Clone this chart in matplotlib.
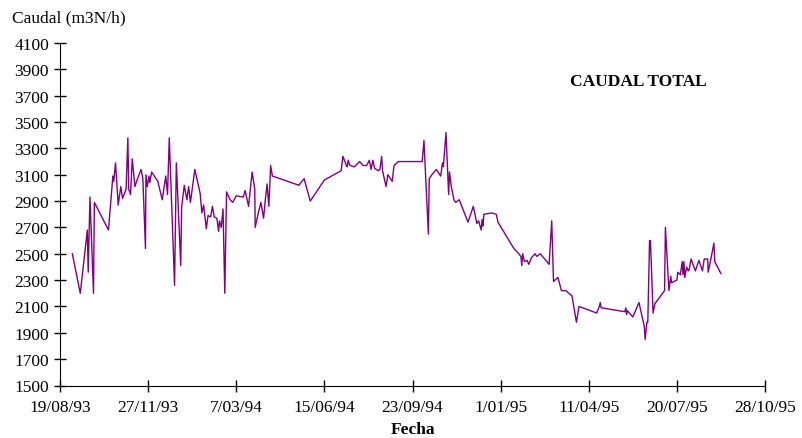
import pandas as pd
import matplotlib.pyplot as plt
import matplotlib.dates as mdates

# Day offsets from the first tick date and the flow read at each point
START = pd.Timestamp("1993-08-19")
days = [14, 23, 31, 32, 34, 38, 39, 55, 60, 61, 63, 66, 69, 71, 75, 77, 78, 80, 82, 85,
        88, 92, 94, 97, 97.5, 99, 101, 102, 104, 111, 116, 120, 122, 124, 130, 132, 137, 138, 141, 144,
        146, 148, 153, 159, 161, 163, 166, 168, 171, 173, 175, 178, 180, 181, 183, 185, 187, 189, 193, 196,
        200, 208, 210, 214, 218, 221, 221.5, 225, 228, 231, 233, 235, 237, 239, 241, 271, 277, 284, 299, 300,
        319, 321, 325, 326, 327, 329, 334, 340, 344, 348, 351, 353, 355, 357, 361, 363, 365, 366, 370, 372,
        377, 379, 384, 409, 411, 413, 418, 419, 422, 427, 432, 434, 435, 438, 441, 442, 444, 447, 449, 453,
        463, 469, 473, 475, 478, 479, 480, 481, 490, 495, 497, 515, 518, 523, 524, 525, 527, 530, 532, 535,
        539, 541, 545, 555, 558, 560, 565, 569, 574, 581, 586, 589, 609, 612, 613, 614, 641, 642, 643, 643.5,
        650, 657, 663, 664, 666, 667, 669, 670, 673, 675, 686, 687, 691, 693, 694, 700, 701, 704, 706, 707,
        708, 709, 711, 713, 714, 716, 721, 725, 729, 731, 735, 735.5, 738, 742, 743, 750]
caudal = [2500, 2200, 2680, 2360, 2930, 2200, 2890, 2680, 3090, 3050, 3190, 2870, 3010, 2920, 2990, 3380, 2990, 2950, 3220, 3010,
          3070, 3140, 3070, 2540, 3100, 3010, 3090, 3040, 3120, 3050, 2910, 3090, 2950, 3380, 2260, 3190, 2410, 2850, 3020, 2910,
          3010, 2890, 3140, 2960, 2810, 2870, 2690, 2790, 2780, 2860, 2780, 2770, 2670, 2750, 2700, 2840, 2200, 2970, 2910, 2890,
          2940, 2930, 2980, 2860, 3120, 2990, 2700, 2810, 2890, 2770, 2910, 3030, 2860, 3170, 3090, 3020, 3070, 2900, 3050, 3060,
          3130, 3240, 3170, 3160, 3210, 3170, 3160, 3200, 3170, 3170, 3210, 3140, 3210, 3150, 3130, 3140, 3240, 3130, 3010, 3100,
          3050, 3170, 3200, 3200, 3200, 3360, 2650, 3070, 3100, 3140, 3090, 3190, 3160, 3420, 2950, 3120, 3010, 2910, 2890, 2910,
          2740, 2860, 2730, 2750, 2680, 2760, 2710, 2800, 2810, 2800, 2740, 2540, 2520, 2480, 2410, 2500, 2440, 2450, 2420, 2470,
          2500, 2480, 2500, 2420, 2750, 2290, 2320, 2220, 2220, 2180, 1980, 2100, 2050, 2100, 2130, 2090, 2060, 2090, 2040, 2070,
          2020, 2130, 1950, 1850, 1980, 1980, 2600, 2600, 2050, 2120, 2220, 2700, 2220, 2330, 2280, 2300, 2360, 2340, 2440, 2340,
          2440, 2320, 2400, 2370, 2380, 2460, 2370, 2450, 2370, 2460, 2460, 2360, 2440, 2580, 2440, 2350]

tick_days = [0, 100, 200, 300, 400, 500, 600, 700, 800]
y_ticks = list(range(1500, 4101, 200))

plt.rcParams["font.family"] = ["Liberation Serif", "DejaVu Serif"]

fechas = START + pd.to_timedelta(days, unit="D")
tick_dates = [START + pd.Timedelta(days=d) for d in tick_days]

fig = plt.figure(figsize=(8.03, 4.39), dpi=100)
ax = fig.add_axes([60 / 803, 1 - 386.5 / 439, 705 / 803, 342.5 / 439])
ax.plot(fechas, caudal, color="#800080", linewidth=1)

ax.set_xlim(tick_dates[0], tick_dates[-1])
ax.set_ylim(1500, 4100)
ax.set_xticks(tick_dates)
ax.set_xticklabels([f"{d.day}/{d.month:02d}/{d.year % 100:02d}" for d in tick_dates])
ax.set_yticks(y_ticks)

for s in ["top", "right"]:
    ax.spines[s].set_visible(False)
ax.tick_params(direction="inout", length=8, width=1, labelsize=12.5, pad=6)
ax.tick_params(axis="y", pad=4)

fig.text(12 / 803, 1 - 18 / 439, "Caudal (m3N/h)", fontsize=12.5, va="center", ha="left")
fig.text(638 / 803, 1 - 82 / 439, "CAUDAL TOTAL", fontsize=12.5, fontweight="bold",
         va="center", ha="center")
fig.text(413 / 803, 1 - 430 / 439, "Fecha", fontsize=12.5, fontweight="bold",
         va="center", ha="center")

fig.savefig("out.png", dpi=100)
